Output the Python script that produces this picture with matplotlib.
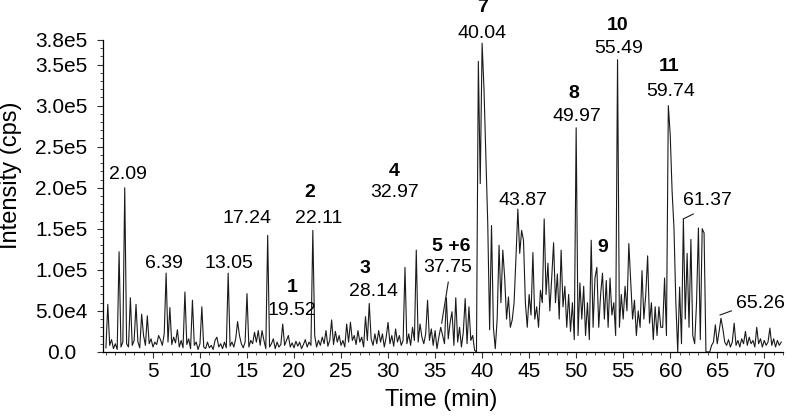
import numpy as np
import matplotlib.pyplot as plt
from matplotlib.ticker import FixedLocator, MultipleLocator

plt.rcParams['font.family'] = ['Liberation Sans', 'DejaVu Sans']

# retention time grid (min), one sample every 0.2 min
time_step = 0.2
# intensity in kcps, 10 samples per row (2 min per row)
intensity_k = [
    5, 58, 8, 15, 4, 10, 3, 122, 6, 12,
    200, 10, 6, 66, 8, 14, 58, 12, 5, 46,
    20, 8, 44, 10, 16, 6, 12, 9, 20, 15,
    8, 22, 96, 12, 54, 9, 18, 11, 27, 6,
    14, 5, 73, 9, 16, 4, 63, 8, 12, 3,
    10, 55, 6, 4, 12, 5, 8, 3, 14, 18,
    6, 10, 4, 12, 5, 96, 7, 12, 6, 16,
    37, 20, 10, 5, 12, 71, 6, 14, 10, 24,
    12, 26, 8, 26, 14, 4, 142, 6, 10, 16,
    4, 12, 6, 9, 34, 8, 14, 20, 6, 11,
    5, 13, 7, 12, 4, 9, 15, 6, 12, 8,
    148, 20, 6, 14, 8, 18, 10, 26, 7, 14,
    39, 9, 25, 12, 20, 8, 14, 6, 34, 12,
    36, 14, 20, 9, 26, 12, 18, 6, 43, 14,
    59, 16, 8, 22, 10, 26, 12, 22, 6, 18,
    36, 10, 20, 7, 28, 12, 20, 8, 14, 103,
    10, 22, 8, 30, 14, 124, 12, 34, 18, 10,
    22, 63, 14, 28, 8, 26, 4, 18, 30, 20,
    10, 66, 16, 36, 49, 8, 66, 12, 30, 6,
    24, 65, 10, 55, 14, 20, 2, 0, 354, 205,
    376, 320, 240, 156, 27, 154, 30, 4, 40, 130,
    60, 124, 90, 40, 67, 30, 39, 60, 115, 174,
    120, 148, 136, 60, 30, 70, 45, 121, 40, 55,
    30, 75, 60, 162, 70, 108, 50, 90, 133, 60,
    95, 40, 124, 55, 80, 30, 70, 25, 60, 15,
    273, 20, 84, 40, 80, 20, 60, 15, 136, 30,
    90, 103, 30, 70, 96, 40, 87, 30, 90, 45,
    60, 20, 356, 30, 70, 40, 80, 50, 132, 87,
    40, 63, 20, 50, 30, 99, 40, 70, 117, 35,
    60, 15, 55, 20, 55, 30, 30, 90, 20, 300,
    265, 196, 151, 60, 0, 79, 10, 162, 40, 120,
    30, 137, 20, 10, 60, 151, 15, 150, 145, 0,
    0, 0, 8, 12, 33, 10, 25, 41, 28, 12,
    8, 15, 6, 12, 35, 8, 14, 6, 16, 10,
    25, 8, 18, 10, 14, 6, 30, 10, 16, 6,
    14, 8, 12, 29, 8, 16, 6, 14, 8, 12,
]
time = np.arange(len(intensity_k)) * time_step
intensity = np.array(intensity_k) * 1e3

y_ticks = [0, 5e4, 1e5, 1.5e5, 2e5, 2.5e5, 3e5, 3.5e5, 3.8e5]
y_tick_labels = ['0.0', '5.0e4', '1.0e5', '1.5e5', '2.0e5', '2.5e5',
                 '3.0e5', '3.5e5', '3.8e5']
x_ticks = [5, 10, 15, 20, 25, 30, 35, 40, 45, 50, 55, 60, 65, 70]

# (text, x, y, bold)
labels = [
    ('2.09', 2.3, 2.16e5, False),
    ('6.39', 6.2, 1.08e5, False),
    ('13.05', 13.1, 1.08e5, False),
    ('17.24', 15.0, 1.62e5, False),
    ('1', 19.8, 7.9e4, True),
    ('19.52', 19.8, 5.1e4, False),
    ('2', 21.7, 1.94e5, True),
    ('22.11', 22.6, 1.62e5, False),
    ('3', 27.5, 1.02e5, True),
    ('28.14', 28.4, 7.3e4, False),
    ('4', 30.7, 2.2e5, True),
    ('32.97', 30.7, 1.94e5, False),
    ('5 +6', 36.7, 1.28e5, True),
    ('37.75', 36.3, 1.03e5, False),
    ('7', 40.0, 4.19e5, True),
    ('40.04', 40.0, 3.88e5, False),
    ('43.87', 44.4, 1.85e5, False),
    ('8', 49.7, 3.15e5, True),
    ('49.97', 50.1, 2.87e5, False),
    ('9', 52.8, 1.27e5, True),
    ('10', 54.4, 3.98e5, True),
    ('55.49', 54.5, 3.7e5, False),
    ('11', 59.9, 3.48e5, True),
    ('59.74', 60.0, 3.17e5, False),
    ('61.37', 64.0, 1.84e5, False),
    ('65.26', 69.6, 5.9e4, False),
]

# leader lines: (x0, y0, x1, y1)
leaders = [
    (36.4, 8.5e4, 35.7, 3.5e4),
    (61.4, 1.62e5, 62.45, 1.68e5),
    (65.3, 4.5e4, 66.5, 5.0e4),
]

fig = plt.figure(figsize=(7.87, 4.16), dpi=100)
ax = fig.add_axes([0.131, 0.154, 0.864, 0.75])

ax.plot(time, intensity, color='#1a1a1a', linewidth=0.8)

for x0, y0, x1, y1 in leaders:
    ax.plot([x0, x1], [y0, y1], color='#1a1a1a', linewidth=0.8)

for text, x, y, bold in labels:
    ax.text(x, y, text, ha='center', va='center', fontsize=14,
            fontweight='bold' if bold else 'normal', clip_on=False)

ax.set_xlim(-0.3, 72)
ax.set_ylim(0, 3.8e5)
ax.yaxis.set_major_locator(FixedLocator(y_ticks))
ax.set_yticklabels(y_tick_labels)
ax.yaxis.set_minor_locator(MultipleLocator(1e4))
ax.xaxis.set_major_locator(FixedLocator(x_ticks))
ax.xaxis.set_minor_locator(MultipleLocator(1))
ax.tick_params(axis='both', which='major', labelsize=15, length=4,
               width=0.8, color='#333333')
# y tick labels are centred in the reference
ax.tick_params(axis='y', which='major', pad=26)
for lab in ax.get_yticklabels():
    lab.set_horizontalalignment('center')
ax.tick_params(axis='x', which='major', pad=3)
ax.tick_params(axis='both', which='minor', length=2.5, width=0.6,
               color='#333333')

for side in ('top', 'right'):
    ax.spines[side].set_visible(False)
for side in ('left', 'bottom'):
    ax.spines[side].set_linewidth(0.9)

ax.set_xlabel('Time (min)', fontsize=17)
ax.set_ylabel('Intensity (cps)', fontsize=17)
ax.xaxis.set_label_coords(0.497, -0.118)
ax.yaxis.set_label_coords(-0.119, 0.567)

fig.savefig('out.png', dpi=100)
